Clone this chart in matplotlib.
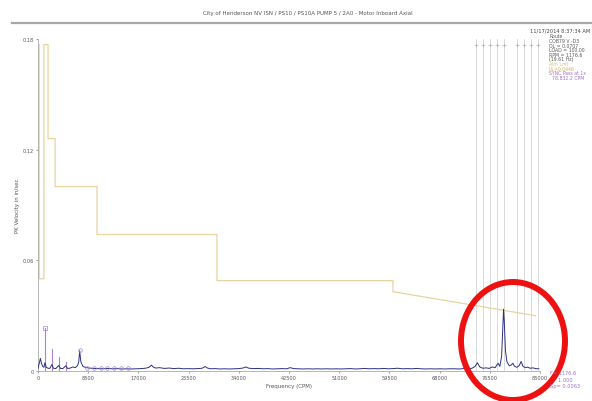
import matplotlib
matplotlib.use('Agg')
import matplotlib.pyplot as plt
from matplotlib.patches import Ellipse
from matplotlib.lines import Line2D

plt.rcParams['font.family'] = 'DejaVu Sans'

title = 'City of Henderson NV ISN / PS10 / PS10A PUMP 5 / 2A0 - Motor Inboard Axial'
stamp = '11/17/2014 8:37:34 AM'

rpm = 1176.6
sync_freq = 78832.2

# spectrum (CPM, in/sec)
spec_freq = [0, 200, 400, 600, 800, 1000, 1176, 1400, 1700, 2000,
             2353, 2600, 3000, 3530, 3800, 4200, 4706, 5000, 5400, 5883,
             6300, 6700, 6900, 7060, 7250, 7600, 8000, 8600, 9400, 10200,
             11000, 11800, 12600, 13400, 14200, 15000, 15800, 16600, 17400, 18200,
             18800, 19200, 19500, 19900, 20600, 21400, 22200, 23000, 23800, 24600,
             25400, 26200, 27000, 27800, 28300, 28700, 29200, 30000, 30800, 31600,
             32400, 33200, 34000, 34700, 35200, 35700, 36500, 37300, 38100, 38900,
             39700, 40500, 41300, 42100, 42700, 43300, 44100, 44900, 45700, 46500,
             47300, 48100, 48900, 49700, 50500, 51300, 52100, 52900, 53700, 54500,
             55300, 56100, 56900, 57700, 58500, 59300, 60100, 60900, 61700, 62500,
             63300, 64100, 64900, 65700, 66500, 67300, 68100, 68900, 69700, 70500,
             71300, 72100, 72800, 73500, 74000, 74400, 74800, 75300, 75900, 76400,
             76900, 77400, 77900, 78200, 78500, 78700, 78832, 78950, 79150, 79400,
             79800, 80100, 80400, 80700, 81100, 81500, 81800, 82100, 82500, 82900,
             83300, 83800, 84300, 84800]
spec_amp = [0.0015, 0.004, 0.0068, 0.004, 0.0025, 0.002, 0.0045, 0.002, 0.0015, 0.0014,
            0.0035, 0.0015, 0.0013, 0.003, 0.0014, 0.0013, 0.0028, 0.0014, 0.0015, 0.0022,
            0.0018, 0.003, 0.005, 0.011, 0.005, 0.0025, 0.002, 0.0016, 0.0014, 0.0013,
            0.0012, 0.0014, 0.0012, 0.0013, 0.0011, 0.0012, 0.0011, 0.0012, 0.0013, 0.0015,
            0.002, 0.0032, 0.0022, 0.0016, 0.0018, 0.0014, 0.0016, 0.0013, 0.0015, 0.0012,
            0.0013, 0.0012, 0.0013, 0.0015, 0.0024, 0.0016, 0.0012, 0.0013, 0.0011, 0.0012,
            0.0011, 0.0012, 0.0013, 0.0016, 0.0022, 0.0015, 0.0013, 0.0014, 0.0012, 0.0013,
            0.0011, 0.0012, 0.0013, 0.0012, 0.0018, 0.0013, 0.0012, 0.0011, 0.0012, 0.0011,
            0.0012, 0.0011, 0.0012, 0.0011, 0.0012, 0.0011, 0.0012, 0.0013, 0.0011, 0.0012,
            0.0014, 0.0012, 0.0013, 0.0012, 0.0014, 0.0012, 0.0013, 0.0015, 0.0012, 0.0013,
            0.0012, 0.0014, 0.0012, 0.0011, 0.0012, 0.0011, 0.0012, 0.0011, 0.0012, 0.0012,
            0.0011, 0.0013, 0.0012, 0.0015, 0.0025, 0.0045, 0.0022, 0.0015, 0.0017, 0.0014,
            0.0022, 0.0018, 0.0042, 0.0025, 0.008, 0.024, 0.0335, 0.027, 0.011, 0.005,
            0.0028, 0.0032, 0.0042, 0.0025, 0.002, 0.003, 0.0052, 0.0026, 0.0018, 0.0021,
            0.0015, 0.0017, 0.0013, 0.0012]

# alarm limit band (stepped)
alarm_freq = [200, 200, 1000, 1000, 1700, 1700, 2900, 2900, 10000, 10000,
              30300, 30300, 60100, 60100, 84200]
alarm_amp = [0.177, 0.050, 0.050, 0.177, 0.177, 0.126, 0.126, 0.100, 0.100, 0.074,
             0.074, 0.049, 0.049, 0.043, 0.030]

# harmonic cursor lines at low orders
harm_orders = [1, 2, 3, 4]
harm_amp = [0.0235, 0.012, 0.0076, 0.005]
circle_orders = [6, 7, 8, 9, 10, 11, 12, 13]
circle_amp = [0.0115, 0.0014, 0.0014, 0.0014, 0.0014, 0.0014, 0.0014, 0.0014]

# sideband cursors around the sync peak
side_orders = [-4, -3, -2, -1, 0, 2, 3, 4, 5]

xticks = [0, 8500, 17000, 25500, 34000, 42500, 51000, 59500, 68000, 76500, 85000]
yticks = [0, 0.06, 0.12, 0.18]

info_lines = [('Route', '#555555'), ('COB79 V -D3', '#555555'), ('OL = 0.0707', '#555555'),
              ('LOAD = 100.00', '#555555'), ('RPM = 1176.6', '#555555'),
              ('(19.61 Hz)', '#555555'), ('Alm Lmt', '#d9c27a'), ('UL=0.0446', '#d8a860'),
              ('SYNC Pass at 1x', '#a070c8'), ('  78,832.2 CPM', '#a070c8')]
cursor_lines = ['F= 1176.6', '     1.000', 'Sp= 0.0063']

fig = plt.figure(figsize=(5.92, 4.02), dpi=100)
ax = fig.add_axes([38 / 592, 30 / 402, 502 / 592, 332 / 402])

for k in side_orders:
    f = sync_freq + k * rpm
    ax.axvline(f, color='#d4d4d4', lw=0.6, zorder=1)
    ax.plot([f], [0.177], marker='+', ms=2.5, mew=0.5, color='#b0b0b0', zorder=2, clip_on=False)

ax.plot(alarm_freq, alarm_amp, color='#e6d49e', lw=0.9, zorder=2)

for o, a in zip(harm_orders, harm_amp):
    ax.plot([o * rpm, o * rpm], [0, a], color='#a884cc', lw=0.8, zorder=3)
ax.plot([rpm], [harm_amp[0]], marker='s', ms=2.2, mfc='none', mec='#a884cc', mew=0.5, zorder=4)
ax.plot([o * rpm for o in circle_orders], circle_amp, ls='none', marker='o', ms=2.6,
        mfc='none', mec='#a884cc', mew=0.5, zorder=4)

ax.plot(spec_freq, spec_amp, color='#2a3180', lw=0.7, zorder=3)

ax.set_xlim(0, 85000)
ax.set_ylim(0, 0.18)
ax.set_xticks(xticks)
ax.set_xticklabels([str(t) for t in xticks])
ax.set_yticks(yticks)
ax.set_yticklabels(['0', '0.06', '0.12', '0.18'])
ax.tick_params(labelsize=3.6, colors='#555555', length=1.5, width=0.4, pad=1.5)
for s in ['top', 'right']:
    ax.spines[s].set_visible(False)
for s in ['left', 'bottom']:
    ax.spines[s].set_color('#aaaaaa')
    ax.spines[s].set_linewidth(0.6)

ax.set_xlabel('Frequency (CPM)', fontsize=4, color='#555555', labelpad=2)
ax.set_ylabel('PK Velocity in in/sec', fontsize=4, color='#555555', labelpad=2)

fig.text(308 / 592, 1 - 14 / 402, title, fontsize=4, color='#555555', ha='center', va='center')
fig.add_artist(Line2D([12 / 592, 1], [1 - 24 / 402, 1 - 24 / 402], color='#a8a8a8', lw=1.6))
fig.text(590 / 592, 1 - 31 / 402, stamp, fontsize=3.7, color='#444444', ha='right', va='center')

for i, (txt, col) in enumerate(info_lines):
    fig.text(549 / 592, 1 - (37 + i * 4.6) / 402, txt, fontsize=3.3, color=col,
             ha='left', va='center')
for i, txt in enumerate(cursor_lines):
    fig.text(550 / 592, 1 - (374 + i * 6.3) / 402, txt, fontsize=3.6, color='#a070c8',
             ha='left', va='center')

fig.add_artist(Ellipse((513 / 592, 1 - 342 / 402), 104 / 592, 118 / 402,
                       fill=False, ec='#ee1111', lw=4.3, transform=fig.transFigure))

fig.savefig('out.png', dpi=100)
